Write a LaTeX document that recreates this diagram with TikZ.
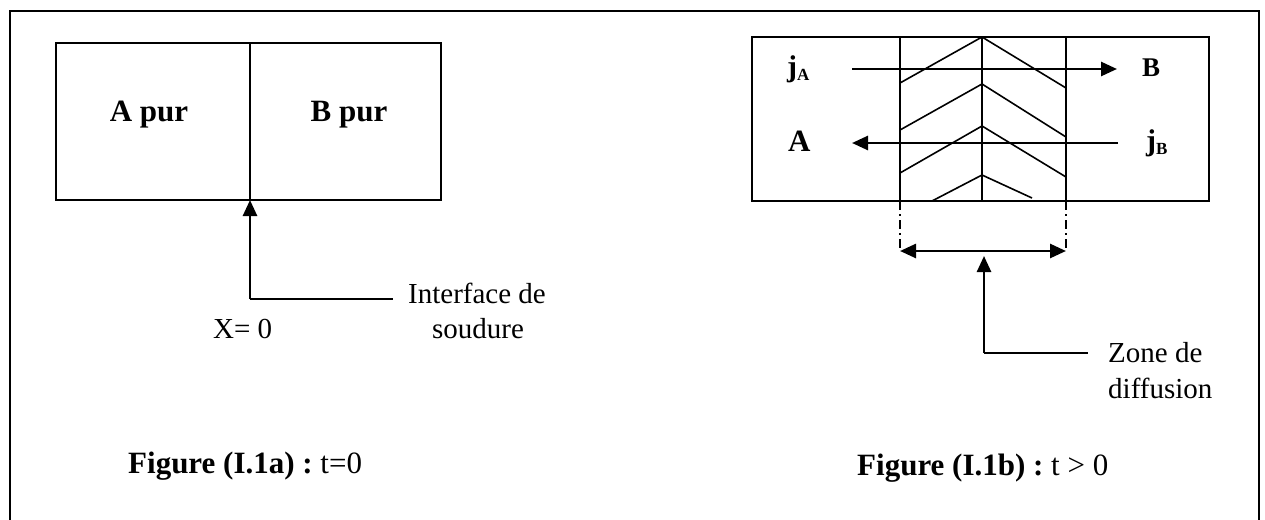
\documentclass[tikz,border=0pt]{standalone}
\usepackage{fontspec}
\setmainfont{Liberation Serif}
\usetikzlibrary{arrows.meta}
\tikzset{
  frame/.style={line width=2pt},
  thin/.style={line width=1.6pt},
  arr/.style={line width=2.6pt,-{Triangle[length=16pt,width=14pt]}},
  darr/.style={line width=2.6pt,{Triangle[length=16pt,width=14pt]}-{Triangle[length=16pt,width=14pt]}},
  lead/.style={line width=2.6pt},
  dashdot/.style={line width=1.6pt,dash pattern=on 9pt off 4pt on 2pt off 4pt},
  boldlbl/.style={inner sep=0pt,font=\fontsize{31}{36}\selectfont\bfseries},
  flux/.style={inner sep=0pt,font=\fontsize{30}{34}\selectfont\bfseries},
  txt/.style={inner sep=0pt,font=\fontsize{29}{35}\selectfont},
}
\newcommand{\subl}[1]{\raisebox{-4pt}{\fontsize{17}{20}\selectfont #1}}
\begin{document}
\begin{tikzpicture}[x=1pt,y=-1pt]
\useasboundingbox (0,0) rectangle (1265,519);
% outer frame (bottom edge lies below the page)
\draw[frame] (10,540) -- (10,11) -- (1259,11) -- (1259,540);

% ---------- Figure a ----------
\draw[frame] (56,43) rectangle (441,200);
\draw[thin] (250,43) -- (250,200);
\node[boldlbl,anchor=base] (apur) at (149,121) {A pur};
\node[boldlbl,anchor=base] (bpur) at (349,121) {B pur};
\coordinate (iface) at (250,200);
\coordinate (cornerA) at (250,299);
\coordinate (endA) at (393,299);
\draw[arr] (cornerA) -- (iface);
\draw[lead] (cornerA) -- (endA);
\node[txt,anchor=base west] (intf) at (408,303) {Interface de};
\node[txt,anchor=base west] (soud) at (432,338) {soudure};
\node[txt,anchor=base west] (x0) at (213,338) {X= 0};
\node[boldlbl,anchor=base west] (capA) at (128,473) {Figure (I.1a) :\ \mdseries t=0};

% ---------- Figure b ----------
\draw[frame] (752,37) rectangle (1209,201);
\foreach \x in {900,982,1066} \draw[thin] (\x,37) -- (\x,201);
\draw[thin] (900,83) -- (982,37) -- (1066,88);
\draw[thin] (900,130) -- (982,84) -- (1066,137);
\draw[thin] (900,173) -- (982,126) -- (1066,177);
\draw[thin] (932,201) -- (982,175) -- (1032,198);
\coordinate (zl) at (900,251);
\coordinate (zr) at (1066,251);
\draw[dashdot] (900,201) -- (zl);
\draw[dashdot] (1066,201) -- (zr);
\draw[darr] (zl) -- (zr);

\node[flux,anchor=base west] (ja) at (787,76) {j\subl{A}};
\node[flux,anchor=base west,font=\fontsize{27}{30}\selectfont\bfseries] (lb) at (1142,76) {B};
\node[flux,anchor=base west,font=\fontsize{31}{34}\selectfont\bfseries] (la) at (788,151) {A};
\node[flux,anchor=base west] (jb) at (1146,150) {j\subl{B}};
\coordinate (a1s) at (852,69);
\coordinate (a1e) at (1117,69);
\coordinate (a2s) at (1118,143);
\coordinate (a2e) at (852,143);
\draw[arr] (a1s) -- (a1e);
\draw[arr] (a2s) -- (a2e);

\coordinate (ztip) at (984,256);
\coordinate (zcorner) at (984,353);
\coordinate (zend) at (1088,353);
\draw[arr] (zcorner) -- (ztip);
\draw[lead] (zcorner) -- (zend);
\node[txt,anchor=base west] (zone) at (1108,362) {Zone de};
\node[txt,anchor=base west] (diff) at (1108,398) {diffusion};
\node[boldlbl,anchor=base west] (capB) at (857,475) {Figure (I.1b) :\ \mdseries t \textgreater{} 0};
\end{tikzpicture}
\end{document}
